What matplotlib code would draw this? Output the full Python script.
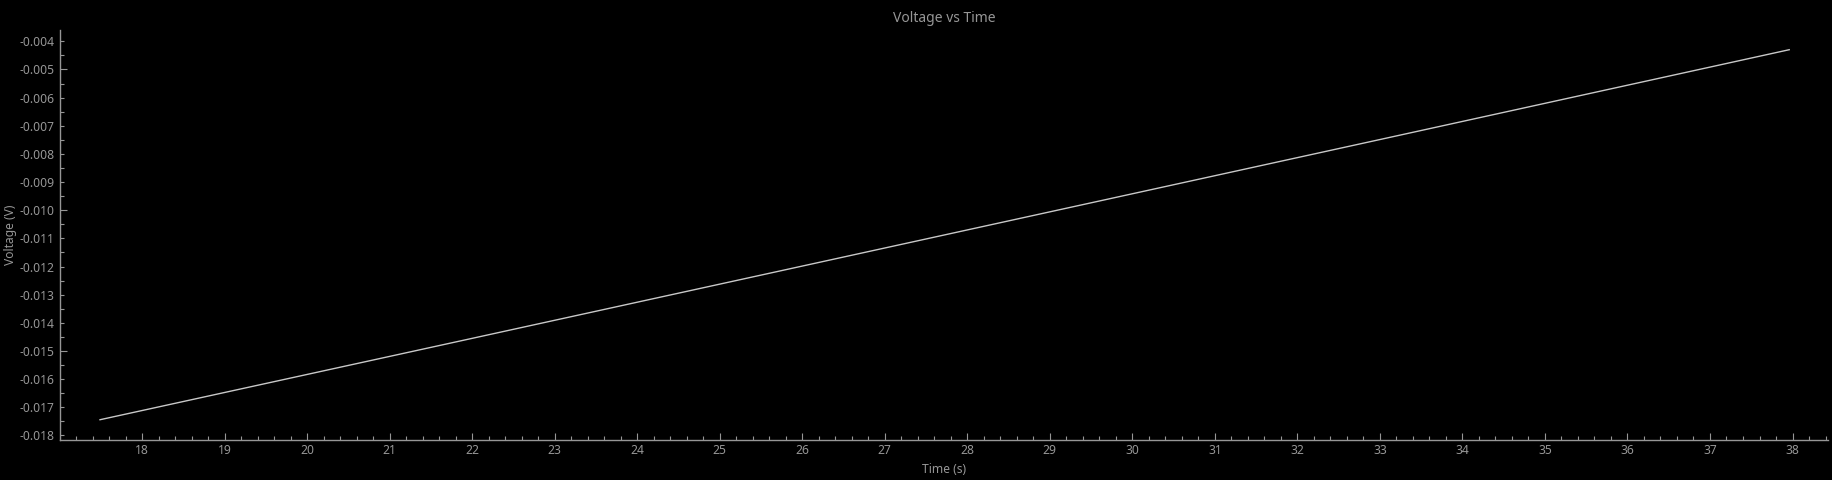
import matplotlib
matplotlib.use("Agg")
import matplotlib.pyplot as plt
from matplotlib.ticker import MultipleLocator, FormatStrFormatter

# values
time_s = [17.49, 22.0, 28.0, 33.0, 37.96]
voltage_v = [-0.01744, -0.01455, -0.01070, -0.00749, -0.00430]

BG = "#000000"
AXIS = "#969696"
LINE = "#c8c8c8"
TXT = "#969696"

plt.rcParams["font.family"] = ["Noto Sans", "DejaVu Sans"]

fig = plt.figure(figsize=(18.32, 4.8), dpi=100, facecolor=BG)
ax = fig.add_axes([60 / 1832, 40 / 480, 1768 / 1832, 410 / 480], facecolor=BG)

ax.plot(time_s, voltage_v, color=LINE, linewidth=1.0)

ax.set_xlim(17.005, 38.43)
ax.set_ylim(-0.01816, -0.0036)

for side in ("top", "right"):
    ax.spines[side].set_visible(False)
for side in ("left", "bottom"):
    ax.spines[side].set_color(AXIS)
    ax.spines[side].set_linewidth(1.0)

ax.xaxis.set_major_locator(MultipleLocator(1))
ax.xaxis.set_minor_locator(MultipleLocator(0.2))
ax.yaxis.set_major_locator(MultipleLocator(0.001))
ax.yaxis.set_minor_locator(MultipleLocator(0.0005))
ax.yaxis.set_major_formatter(FormatStrFormatter("%.3f"))

ax.tick_params(axis="x", which="major", direction="in", length=5.0, width=0.8,
               color=AXIS, labelcolor=TXT, labelsize=8.7, pad=3)
ax.tick_params(axis="x", which="minor", direction="in", length=3.0, width=0.8,
               color=AXIS)
ax.tick_params(axis="y", which="major", direction="in", length=3.2, width=0.8,
               color=AXIS, labelcolor=TXT, labelsize=8.7, pad=4)
ax.tick_params(axis="y", which="minor", direction="in", length=3.0, width=0.8,
               color=AXIS)

ax.set_title("Voltage vs Time", color=TXT, fontsize=10, pad=6)
ax.set_xlabel("Time (s)", color=TXT, fontsize=8.7, labelpad=4)
ax.set_ylabel("Voltage (V)", color=TXT, fontsize=8.7, labelpad=2)

fig.canvas.draw()
for t in ax.yaxis.get_major_ticks():
    if abs(round(t.get_loc() / 0.005) * 0.005 - t.get_loc()) < 1e-9:
        t.tick1line.set_markersize(4.8)

fig.savefig("out.png", dpi=100, facecolor=BG)
